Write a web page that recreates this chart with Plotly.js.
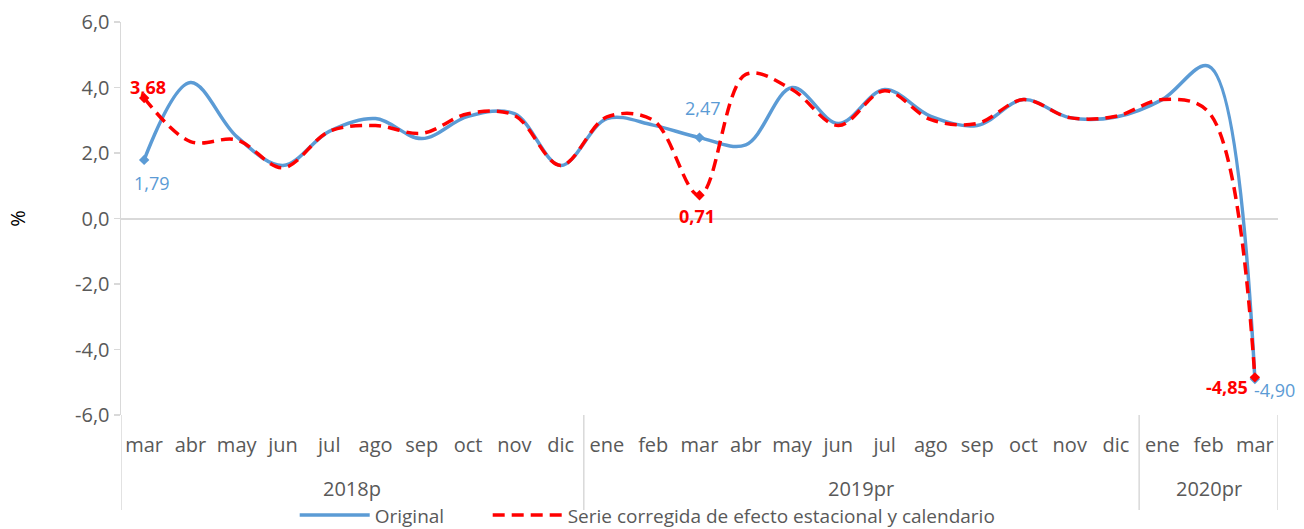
<!DOCTYPE html>
<html>
<head>
<meta charset="utf-8">
<script src="https://cdn.plot.ly/plotly-3.0.1.min.js"></script>
<style>html,body{margin:0;padding:0;background:#fff;}#chart{width:1304px;height:529px;}</style>
</head>
<body>
<div id="chart"></div>
<script>
var months = ['mar','abr','may','jun','jul','ago','sep','oct','nov','dic',
              'ene','feb','mar','abr','may','jun','jul','ago','sep','oct','nov','dic',
              'ene','feb','mar'];
var years = ['2018p','2019pr','2020pr'];
var yearCounts = [10, 12, 3];
var original = [1.79, 4.15, 2.50, 1.62, 2.66, 3.05, 2.44, 3.12, 3.20, 1.62,
                3.05, 2.85, 2.47, 2.25, 4.00, 2.90, 3.94, 3.12, 2.84, 3.63, 3.08, 3.10,
                3.63, 4.65, -4.90];
var corregida = [3.68, 2.35, 2.40, 1.55, 2.66, 2.84, 2.60, 3.20, 3.15, 1.62,
                 3.10, 3.00, 0.71, 4.40, 3.94, 2.84, 3.90, 3.02, 2.90, 3.63, 3.08, 3.12,
                 3.63, 3.25, -4.85];
var labeledPoints = [0, 12, 24];
var yTickVals = [-6, -4, -2, 0, 2, 4, 6];
var seriesNames = ['Original', 'Serie corregida de efecto estacional y calendario'];

var FONT = 'Open Sans, sans-serif';
var FS = 20;
var GREY = '#595959';
var BLUE = '#5b9bd5';
var RED = '#ff0000';
var AXC = '#d9d9d9';

function fmt(v, d) { return v.toFixed(d).replace('.', ','); }

var xIdx = months.map(function (m, i) { return i; });
var lx = labeledPoints.map(function (i) { return xIdx[i]; });

var traces = [
  {
    x: xIdx, y: original, name: seriesNames[0], type: 'scatter', mode: 'lines',
    line: {color: BLUE, width: 3.5, shape: 'spline', smoothing: 1},
    legend: 'legend', hoverinfo: 'y'
  },
  {
    x: xIdx, y: corregida, name: seriesNames[1], type: 'scatter', mode: 'lines',
    line: {color: RED, width: 3.5, dash: '12px,7px', shape: 'spline', smoothing: 1},
    legend: 'legend2', hoverinfo: 'y'
  },
  {
    x: lx, y: labeledPoints.map(function (i) { return original[i]; }), type: 'scatter', mode: 'markers',
    marker: {symbol: 'diamond', size: 8, color: BLUE}, showlegend: false, hoverinfo: 'y'
  },
  {
    x: lx, y: labeledPoints.map(function (i) { return corregida[i]; }), type: 'scatter', mode: 'markers',
    marker: {symbol: 'diamond', size: 8, color: RED}, showlegend: false, hoverinfo: 'y'
  }
];

var annotations = [];
var start = 0;
years.forEach(function (yr, k) {
  var c = start + (yearCounts[k] - 1) / 2;
  annotations.push({x: c, xref: 'x', y: -0.188, yref: 'paper', text: yr, showarrow: false,
    font: {family: FONT, size: FS, color: GREY}, xanchor: 'center', yanchor: 'middle'});
  start += yearCounts[k];
});
var blueShift = [[8, -23], [3, 30], [20, -11]];
var redShift = [[4, 11], [-3, -21], [-28, -10]];
labeledPoints.forEach(function (i, k) {
  annotations.push({x: i, y: original[i], xref: 'x', yref: 'y', text: fmt(original[i], 2),
    showarrow: false, xshift: blueShift[k][0], yshift: blueShift[k][1],
    font: {family: FONT, size: 18, color: BLUE}});
  annotations.push({x: i, y: corregida[i], xref: 'x', yref: 'y', text: '<b>' + fmt(corregida[i], 2) + '</b>',
    showarrow: false, xshift: redShift[k][0], yshift: redShift[k][1],
    font: {family: FONT, size: 18, color: RED}});
});

var shapes = [];
var bounds = [-0.5];
var acc = -0.5;
yearCounts.forEach(function (n) { acc += n; bounds.push(acc); });
bounds.forEach(function (b) {
  shapes.push({type: 'line', xref: 'x', yref: 'paper', x0: b, x1: b, y0: 0, y1: -0.242,
    line: {color: AXC, width: 1.5}});
});

var legendBase = {orientation: 'h', xref: 'container', yref: 'container', xanchor: 'left',
  y: 0.026, yanchor: 'middle', itemwidth: 70,
  font: {family: FONT, size: 19, color: GREY}, bgcolor: 'rgba(0,0,0,0)'};

var layout = {
  width: 1304, height: 529,
  margin: {l: 121, r: 26, t: 22, b: 114},
  paper_bgcolor: '#ffffff', plot_bgcolor: '#ffffff',
  showlegend: true,
  legend: Object.assign({}, legendBase, {x: 0.226}),
  legend2: Object.assign({}, legendBase, {x: 0.374}),
  xaxis: {
    range: [-0.5, xIdx.length - 0.5], tickmode: 'array', tickvals: xIdx, ticktext: months,
    showgrid: false, zeroline: false, showline: false, ticks: '', automargin: false,
    ticklabelstandoff: 16,
    tickfont: {family: FONT, size: FS, color: GREY}, fixedrange: true
  },
  yaxis: {
    range: [-6, 6], tickmode: 'array', tickvals: yTickVals,
    ticktext: yTickVals.map(function (v) { return fmt(v, 1); }),
    showgrid: false, zeroline: true, zerolinecolor: AXC, zerolinewidth: 2,
    showline: true, linecolor: AXC, linewidth: 1.5, automargin: false,
    ticks: 'outside', ticklen: 6, tickcolor: AXC, tickwidth: 1.5,
    tickfont: {family: FONT, size: FS, color: GREY},
    title: {text: '%', font: {family: FONT, size: FS, color: '#000000'}, standoff: 44},
    fixedrange: true
  },
  annotations: annotations,
  shapes: shapes
};

Plotly.newPlot('chart', traces, layout, {displayModeBar: false, staticPlot: true});
</script>
</body>
</html>
